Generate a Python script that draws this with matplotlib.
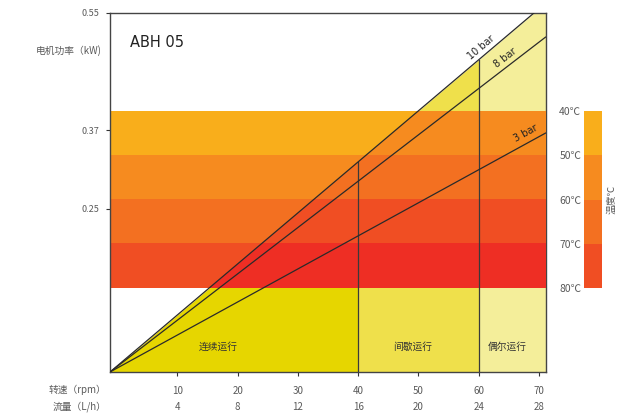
import matplotlib
matplotlib.use("Agg")
import matplotlib.pyplot as plt
from matplotlib.patches import Polygon
import numpy as np

plt.rcParams['font.family'] = ['Noto Sans CJK SC', 'DejaVu Sans']

# chart data
rpm_ticks = [10, 20, 30, 40, 50, 60, 70]
flow_ticks = [4, 8, 12, 16, 20, 24, 28]
power_ticks = [0.25, 0.37, 0.55]
pressure_labels = ['10 bar', '8 bar', '3 bar']
pressure_power_end = [0.565, 0.513, 0.366]   # power reached at right edge
duty_limits = [40, 60]
duty_labels = ['连续运行', '间歇运行', '偶尔运行']
temp_labels = ['40℃', '50℃', '60℃', '70℃', '80℃']
temp_values = [40, 50, 60, 70, 80]
temp_band_edges = [0.40, 0.332, 0.265, 0.197, 0.129]

# styling
XMIN, XMAX = -1.2, 71.1
band_colors = ['#F9AE1B', '#F68B1F', '#F37021', '#F04E23']
band_colors_load = ['#F68B1F', '#F37021', '#F04E23', '#EE2E24']
duty_colors = ['#E6D600', '#EFE04B', '#F4EE9A']
duty_label_x = [16.8, 49.0, 64.8]
label_x = [61.0, 65.0, 68.3]
label_off = [0.005, 0.005, 0.007]
grey = '#5a5a5a'

fig = plt.figure(figsize=(6.35, 4.13), dpi=100)
ax = fig.add_axes([110 / 635, 41 / 413, 435.5 / 635, 359 / 413])
ax.set_xlim(XMIN, XMAX)
ax.set_ylim(0, 0.55)


def line_at(i, x):
    """Power of pressure line i at speed x"""
    return pressure_power_end[i] * (x - XMIN) / (XMAX - XMIN)


# duty zones below the 10 bar line
edges = [XMIN] + duty_limits + [XMAX]
for k in range(3):
    xs = np.array([edges[k], edges[k + 1]])
    ax.fill_between(xs, 0, line_at(0, xs), color=duty_colors[k], lw=0, zorder=1)

# temperature bands
clip = Polygon([(XMIN, 0), (XMAX, 0), (XMAX, pressure_power_end[0])],
               closed=True, transform=ax.transData)
for k in range(4):
    lo, hi = temp_band_edges[k + 1], temp_band_edges[k]
    ax.fill_between([XMIN, XMAX], lo, hi, color=band_colors[k], lw=0, zorder=2)
    dark = ax.fill_between([XMIN, XMAX], lo, hi, color=band_colors_load[k],
                           lw=0, zorder=3)
    dark.set_clip_path(clip)

# duty limits
for d in duty_limits:
    ax.plot([d, d], [0, line_at(0, d)], color='#3a3a3a', lw=0.9, zorder=4)

# pressure lines
for i, lab in enumerate(pressure_labels):
    ax.plot([XMIN, XMAX], [0, pressure_power_end[i]], color='#2a2a2a',
            lw=0.9, zorder=4)
    slope = pressure_power_end[i] / (XMAX - XMIN)
    ang = np.degrees(np.arctan(slope))
    ax.text(label_x[i], line_at(i, label_x[i]) + label_off[i], lab,
            fontsize=7, color='#222222', rotation=ang,
            transform_rotates_text=True, rotation_mode='anchor',
            ha='center', va='bottom', zorder=5, family=['DejaVu Sans'])

for k, lab in enumerate(duty_labels):
    ax.text(duty_label_x[k], 0.038, lab, fontsize=7, color='#333333',
            ha='center', va='center', zorder=5)

ax.text(0.045, 0.505, 'ABH 05', fontsize=10.5, color='#222222',
        ha='left', va='center', zorder=5, family=['DejaVu Sans'],
        transform=ax.get_yaxis_transform())

# axes, ticks
for s in ax.spines.values():
    s.set_color('#444444')
    s.set_linewidth(1.0)
ax.set_xticks(rpm_ticks)
ax.set_xticklabels([f'{r}\n{f}' for r, f in zip(rpm_ticks, flow_ticks)])
for t in ax.get_xticklabels():
    t.set_linespacing(1.75)
ax.set_yticks(power_ticks)
ax.set_yticklabels([f'{p:.2f}' for p in power_ticks])
ax.tick_params(axis='x', length=3, width=0.8, color='#333333', pad=7,
               labelsize=7, labelcolor=grey)
ax.tick_params(axis='y', length=3, width=0.8, color='#333333', pad=5,
               labelsize=6.5, labelcolor=grey)

ax.text(-0.02, 0.493, '电机功率（kW)', fontsize=7, color=grey, ha='right',
        va='center', transform=ax.get_yaxis_transform())
ax.text(-0.008, -0.050, '转速（rpm）', fontsize=7, color=grey, ha='right',
        va='center', transform=ax.transAxes)
ax.text(-0.008, -0.0975, '流量（L/h）', fontsize=7, color=grey, ha='right',
        va='center', transform=ax.transAxes)

# temperature legend
cax = fig.add_axes([584 / 635, 125 / 413, 18 / 635, 177 / 413])
cax.bar(0.5, np.diff(temp_values), bottom=temp_values[:-1], width=1,
        color=band_colors, lw=0)
cax.set_xlim(0, 1)
cax.set_ylim(temp_values[-1], temp_values[0])
cax.set_xticks([])
cax.set_yticks(temp_values)
cax.set_yticklabels(temp_labels)
cax.tick_params(axis='y', length=0, pad=2, labelsize=7.5, labelcolor=grey)
for s in cax.spines.values():
    s.set_visible(False)
cax.text(1.55, 0.5, '温度℃', fontsize=7, color=grey, rotation=90,
         ha='center', va='center', transform=cax.transAxes)

fig.savefig('out.png', dpi=100)
